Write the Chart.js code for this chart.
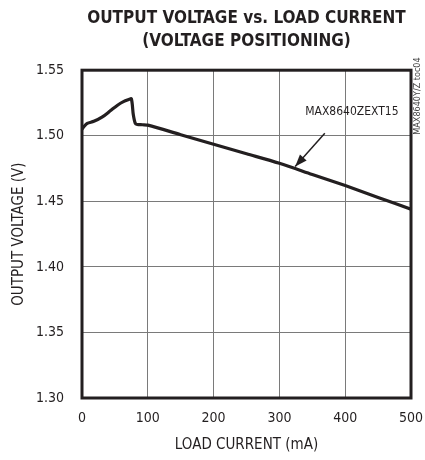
<!DOCTYPE html>
<html>
<head>
<meta charset="utf-8">
<script src="https://cdn.jsdelivr.net/npm/chart.js@4.4.0/dist/chart.umd.min.js"></script>
<style>
  html, body { margin: 0; padding: 0; background: #fff; }
  #wrap { width: 425px; height: 460px; position: relative; }
</style>
</head>
<body>
<div id="wrap"><canvas id="chart" width="425" height="460"></canvas></div>
<script>
// 資料：負載電流 (mA) 與輸出電壓 (V)
const loadCurrent = [0, 3, 8, 18, 31, 43, 54, 63, 71, 75, 78, 81, 84, 92, 100, 150, 200, 250, 300, 350, 400, 450, 500];
const outputVoltage = [1.505, 1.507, 1.5094, 1.511, 1.5144, 1.519, 1.5233, 1.526, 1.5276, 1.5282, 1.516, 1.5094, 1.5086, 1.5084, 1.5081, 1.5008, 1.4935, 1.4863, 1.479, 1.4705, 1.462, 1.453, 1.444];
const xTicks = [0, 100, 200, 300, 400, 500];
const yTicks = [1.30, 1.35, 1.40, 1.45, 1.50, 1.55];
const titleLines = ['OUTPUT VOLTAGE vs. LOAD CURRENT', '(VOLTAGE POSITIONING)'];
const partLabel = 'MAX8640ZEXT15';
const sideNote = 'MAX8640Y/Z toc04';

const narrow = '"Liberation Sans Narrow", "DejaVu Sans Condensed", sans-serif';

// 外框、標註箭頭與側邊文字
const framePlugin = {
  id: 'frame',
  afterDraw(chart) {
    const { ctx, chartArea: a, scales } = chart;
    ctx.save();
    ctx.strokeStyle = '#231f20';
    ctx.lineWidth = 3;
    ctx.strokeRect(a.left, a.top, a.right - a.left, a.bottom - a.top);

    // 標註文字
    ctx.fillStyle = '#231f20';
    ctx.font = '12px ' + narrow;
    ctx.textAlign = 'right';
    ctx.textBaseline = 'middle';
    ctx.fillText(partLabel, scales.x.getPixelForValue(481), scales.y.getPixelForValue(1.518));

    // 箭頭
    const x0 = scales.x.getPixelForValue(369), y0 = scales.y.getPixelForValue(1.502);
    const x1 = scales.x.getPixelForValue(324), y1 = scales.y.getPixelForValue(1.4765);
    ctx.lineWidth = 1.5;
    ctx.beginPath();
    ctx.moveTo(x0, y0);
    ctx.lineTo(x1, y1);
    ctx.stroke();
    const ang = Math.atan2(y1 - y0, x1 - x0);
    const len = 13, half = 0.35;
    ctx.beginPath();
    ctx.moveTo(x1, y1);
    ctx.lineTo(x1 - len * Math.cos(ang - half), y1 - len * Math.sin(ang - half));
    ctx.lineTo(x1 - len * Math.cos(ang + half), y1 - len * Math.sin(ang + half));
    ctx.closePath();
    ctx.fill();

    // 側邊小字
    ctx.save();
    ctx.translate(418, 96);
    ctx.rotate(-Math.PI / 2);
    ctx.fillStyle = '#444';
    ctx.font = '9px ' + narrow;
    ctx.textAlign = 'center';
    ctx.fillText(sideNote, 0, 0);
    ctx.restore();
    ctx.restore();
  }
};

const ctx = document.getElementById('chart').getContext('2d');
new Chart(ctx, {
  type: 'line',
  data: {
    datasets: [{
      data: loadCurrent.map((x, i) => ({ x: x, y: outputVoltage[i] })),
      borderColor: '#231f20',
      borderWidth: 3.2,
      pointRadius: 0,
      tension: 0.3,
      fill: false
    }]
  },
  options: {
    responsive: false,
    animation: false,
    layout: { padding: { top: 0, right: 14, bottom: 6, left: 10 } },
    plugins: {
      legend: { display: false },
      tooltip: { enabled: false },
      title: {
        display: true,
        fullSize: false,
        text: titleLines,
        color: '#231f20',
        font: { family: narrow, size: 17, weight: 'bold', lineHeight: 1.3 },
        padding: { top: 8, bottom: 18 }
      }
    },
    scales: {
      x: {
        type: 'linear',
        min: 0,
        max: 500,
        afterBuildTicks: s => { s.ticks = xTicks.map(v => ({ value: v })); },
        afterFit: s => { s.height = 56; s.paddingLeft = 0; s.paddingRight = 0; },
        ticks: {
          color: '#231f20',
          font: { family: narrow, size: 14 },
          padding: 12,
          callback: v => String(v)
        },
        grid: { color: '#7a7a7a', lineWidth: 1, drawTicks: false },
        border: { display: false },
        title: {
          display: true,
          text: 'LOAD CURRENT (mA)',
          color: '#231f20',
          font: { family: narrow, size: 15 },
          padding: { top: 4, bottom: 0 }
        }
      },
      y: {
        min: 1.30,
        max: 1.55,
        afterBuildTicks: s => { s.ticks = yTicks.map(v => ({ value: v })); },
        afterFit: s => { s.width = 72; },
        ticks: {
          color: '#231f20',
          font: { family: narrow, size: 14 },
          padding: 18,
          callback: v => v.toFixed(2)
        },
        grid: { color: '#7a7a7a', lineWidth: 1, drawTicks: false },
        border: { display: false },
        title: {
          display: true,
          text: 'OUTPUT VOLTAGE (V)',
          color: '#231f20',
          font: { family: narrow, size: 15 },
          padding: { top: 0, bottom: 8 }
        }
      }
    }
  },
  plugins: [framePlugin]
});
</script>
</body>
</html>
